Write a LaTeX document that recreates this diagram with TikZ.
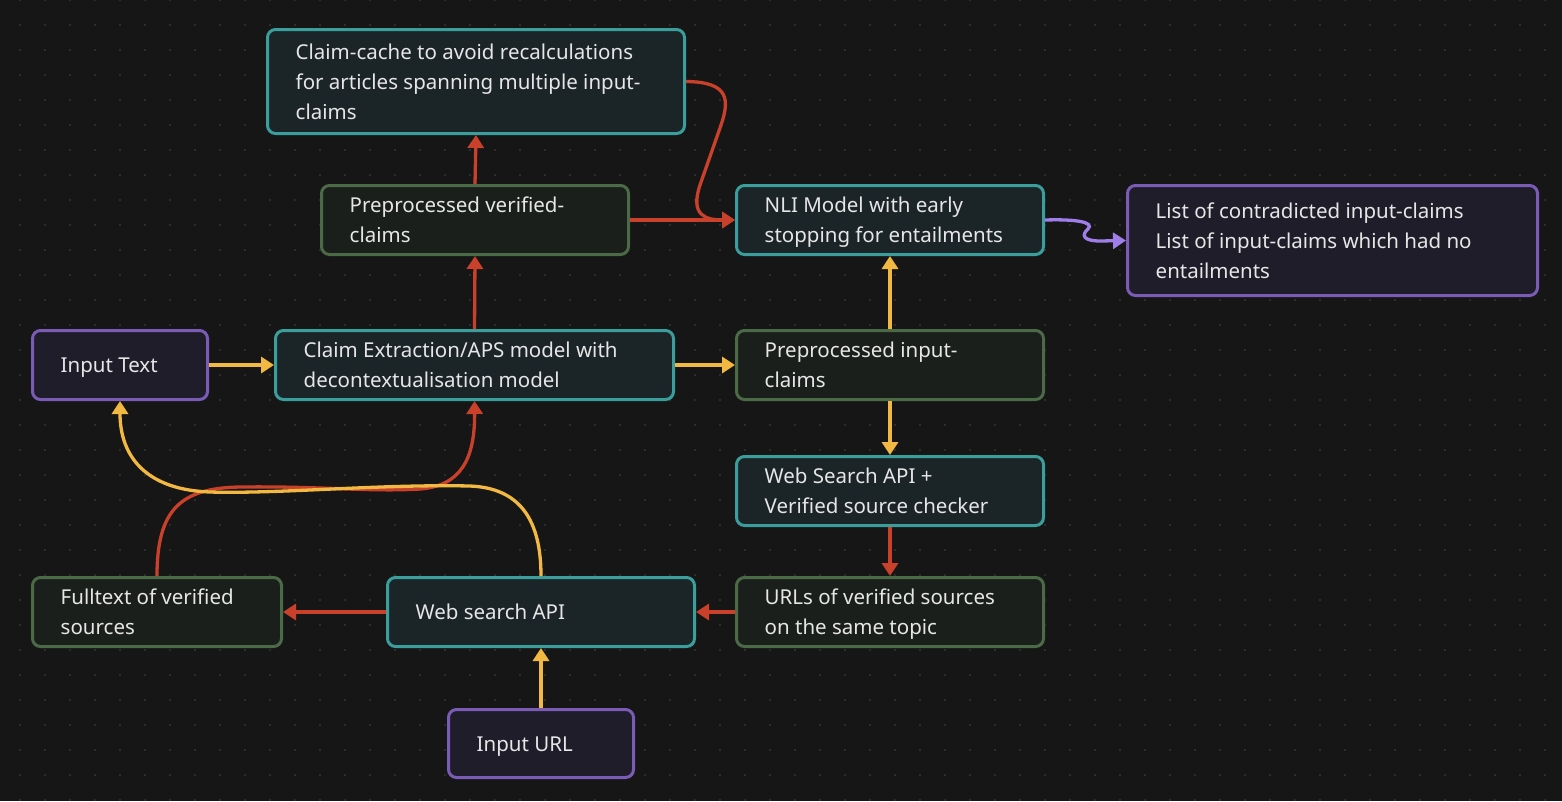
\documentclass[tikz,border=0pt]{standalone}
\usepackage{fontspec}
\setmainfont{Noto Sans}
\usetikzlibrary{arrows.meta}
\definecolor{bg}{HTML}{161616}
\definecolor{dotc}{HTML}{2C2C2C}
\definecolor{tealB}{HTML}{3A9E9C}
\definecolor{tealF}{HTML}{1B2528}
\definecolor{greenB}{HTML}{4B6B47}
\definecolor{greenF}{HTML}{1B1F1C}
\definecolor{purB}{HTML}{7A5CB6}
\definecolor{purF}{HTML}{201D2A}
\definecolor{redA}{HTML}{C9412A}
\definecolor{yelA}{HTML}{F2B942}
\definecolor{purA}{HTML}{A07EEA}
\definecolor{txtc}{HTML}{E6E6E6}
\newcommand\mkbox[7]{%
  \node[#2, minimum width={#5-#3-3}, minimum height={#6-#4-3}] (#1) at ({(#3+#5)/2},{(#4+#6)/2}) {};
  \node[txt, anchor=west] (#1t) at ([xshift=29.5pt,yshift=-1.5pt]#1.west) {\strut #7\strut};}
\begin{document}
\begin{tikzpicture}[x=1pt,y=-1pt,
  boxbase/.style={rectangle, rounded corners=8pt, line width=3pt, inner sep=0pt},
  tealbox/.style={boxbase, draw=tealB, fill=tealF},
  greenbox/.style={boxbase, draw=greenB, fill=greenF},
  purbox/.style={boxbase, draw=purB, fill=purF},
  txt/.style={inner sep=0pt, align=left, text=txtc, font=\fontsize{20.5}{30}\selectfont},
  conn/.style={line width=3.3pt, -{Triangle[length=13pt,width=16pt]}},
  redc/.style={conn, draw=redA},
  yelc/.style={conn, draw=yelA},
  purc/.style={conn, draw=purA}]
\useasboundingbox (0,0) rectangle (1562,801);
\fill[bg] (0,0) rectangle (1562,801);
\foreach \k in {0,...,32}{
  \draw[dotc, line width=2pt, dash pattern=on 2pt off 23pt] (18.5,{-0.5+25*\k}) -- (1562,{-0.5+25*\k});
}
\mkbox{cc}{tealbox}{266}{28}{686}{135}{Claim-cache to avoid recalculations\\for articles spanning multiple input-\\claims}
\mkbox{pvc}{greenbox}{320}{184}{630}{256}{Preprocessed verified-\\claims}
\mkbox{nli}{tealbox}{735}{184}{1045}{256}{NLI Model with early\\stopping for entailments}
\mkbox{lst}{purbox}{1126}{184}{1539}{297}{List of contradicted input-claims\\List of input-claims which had no\\entailments}
\mkbox{it}{purbox}{31}{329}{209}{401}{Input Text}
\mkbox{ce}{tealbox}{274}{329}{675}{401}{Claim Extraction/APS model with\\decontextualisation model}
\mkbox{pic}{greenbox}{735}{329}{1045}{401}{Preprocessed input-\\claims}
\mkbox{wsv}{tealbox}{735}{455}{1045}{527}{Web Search API +\\Verified source checker}
\mkbox{ft}{greenbox}{31}{576}{283}{648}{Fulltext of verified\\sources}
\mkbox{ws}{tealbox}{386}{576}{696}{648}{Web search API}
\mkbox{url}{greenbox}{735}{576}{1045}{648}{URLs of verified sources\\on the same topic}
\mkbox{iu}{purbox}{447}{708}{635}{779}{Input URL}
% connectors
\draw[redc] (pvc.north) -- (cc.south);
\draw[redc] (ce.north) -- (pvc.south);
\draw[redc] (pvc.east) -- (nli.west);
\draw[redc] (cc.east) .. controls (730,82) and (730,100) .. (720,128) -- (700,185) .. controls (690,215) and (705,220) .. (nli.west);
\draw[yelc] (it.east) -- (ce.west);
\draw[yelc] (ce.east) -- (pic.west);
\draw[yelc] (pic.north) -- (nli.south);
\draw[yelc] (pic.south) -- (wsv.north);
\draw[redc] (wsv.south) -- (url.north);
\draw[redc] (url.west) -- (ws.east);
\draw[redc] (ws.west) -- (ft.east);
\draw[yelc] (iu.north) -- (ws.south);
\draw[redc] (ft.north) .. controls (157,510) and (180,488) .. (240,487) .. controls (320,486) and (370,492) .. (420,489) .. controls (460,486) and (475,460) .. (ce.south);
\draw[yelc] (ws.north) .. controls (541,520) and (520,488) .. (470,486) .. controls (380,484) and (280,494) .. (210,492) .. controls (150,490) and (120,460) .. (it.south);
\draw[purc] (nli.east) .. controls (1075,219) and (1095,222) .. (1088,229) .. controls (1080,236) and (1085,241) .. (1100,241) -- (lst.west);
\end{tikzpicture}
\end{document}
